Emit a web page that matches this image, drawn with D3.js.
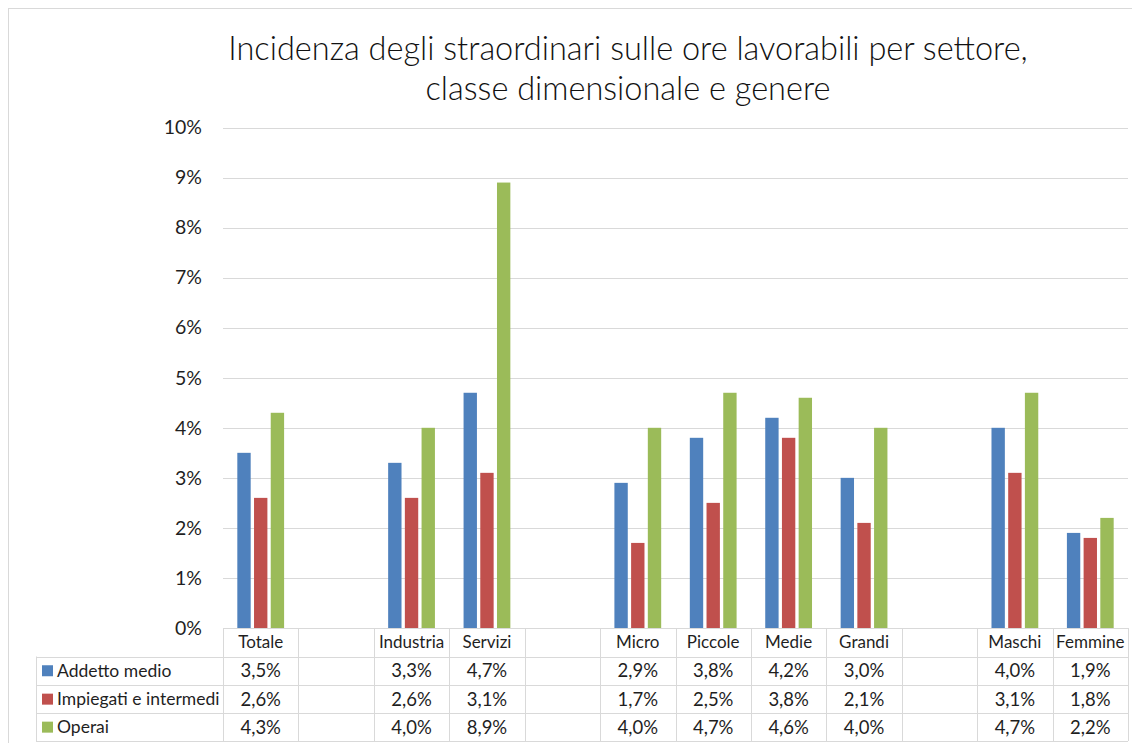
<!DOCTYPE html>
<html>
<head>
<meta charset="utf-8">
<script src="https://cdn.jsdelivr.net/npm/d3@7"></script>
<style>
  html, body { margin: 0; padding: 0; background: #fff; }
  svg { display: block; font-family: Lato, "Open Sans", sans-serif; }
</style>
</head>
<body>
<svg id="chart" width="1132" height="743"></svg>
<script>
// Categories (empty strings are spacer columns between groups)
const categories = ["Totale", "", "Industria", "Servizi", "", "Micro", "Piccole", "Medie", "Grandi", "", "Maschi", "Femmine"];
const seriesNames = ["Addetto medio", "Impiegati e intermedi", "Operai"];
const seriesColors = ["#4F81BD", "#C0504D", "#9BBB59"];
const addettoMedio = [3.5, null, 3.3, 4.7, null, 2.9, 3.8, 4.2, 3.0, null, 4.0, 1.9];
const impiegati    = [2.6, null, 2.6, 3.1, null, 1.7, 2.5, 3.8, 2.1, null, 3.1, 1.8];
const operai       = [4.3, null, 4.0, 8.9, null, 4.0, 4.7, 4.6, 4.0, null, 4.7, 2.2];
const yTicks = [0, 1, 2, 3, 4, 5, 6, 7, 8, 9, 10];
const titleLines = ["Incidenza degli straordinari sulle ore lavorabili per settore,", "classe dimensionale e genere"];

const seriesValues = [addettoMedio, impiegati, operai];
const fmtPct = v => v.toFixed(1).replace(".", ",") + "%";

const svg = d3.select("#chart");
const gridColor = "#D9D9D9";
const textColor = "#1f1f1f";

// Outer chart frame
svg.append("rect")
  .attr("x", 8.5).attr("y", 8.5)
  .attr("width", 1140).attr("height", 760)
  .attr("fill", "#fff").attr("stroke", gridColor);

// Title
svg.append("g").selectAll("text")
  .data(titleLines).join("text")
  .attr("x", 628)
  .attr("y", (d, i) => 60 + i * 40)
  .attr("text-anchor", "middle")
  .attr("font-size", 32.5)
  .attr("font-weight", 300)
  .attr("fill", "#111")
  .text(d => d);

// Scales
const x = d3.scaleBand()
  .domain(d3.range(categories.length))
  .range([223, 1128])
  .paddingInner(0).paddingOuter(0);

const x1 = d3.scaleBand()
  .domain(d3.range(seriesNames.length))
  .range([0, x.bandwidth()])
  .paddingInner(0.2)
  .paddingOuter(0.857);

const y = d3.scaleLinear().domain([0, 10]).range([628, 127.5]);

// Gridlines
svg.append("g").selectAll("line")
  .data(yTicks).join("line")
  .attr("x1", 223).attr("x2", 1128)
  .attr("y1", d => Math.round(y(d)) + 0.5)
  .attr("y2", d => Math.round(y(d)) + 0.5)
  .attr("stroke", gridColor)
  .attr("stroke-width", 1.2);

// Y axis labels
const yAxis = d3.axisLeft(y).tickValues(yTicks).tickFormat(d => d + "%").tickSize(0).tickPadding(0);
const yAxisG = svg.append("g").attr("transform", "translate(202,0)").call(yAxis);
yAxisG.select(".domain").remove();
yAxisG.selectAll("text")
  .attr("font-family", "Lato, sans-serif")
  .attr("font-size", 19.5)
  .attr("fill", textColor);

// Bars
const barGroups = svg.append("g").selectAll("g")
  .data(categories.map((c, i) => i)).join("g")
  .attr("transform", i => `translate(${x(i)},0)`);

barGroups.selectAll("rect")
  .data(i => seriesValues.map((vals, s) => ({ s, v: vals[i] })).filter(d => d.v != null))
  .join("rect")
  .attr("x", d => x1(d.s))
  .attr("width", x1.bandwidth())
  .attr("y", d => y(d.v))
  .attr("height", d => y(0) - y(d.v))
  .attr("fill", d => seriesColors[d.s]);

// Data table
const rowTops = [628, 656.5, 685, 713.3, 741];
const legendLeft = 36;
const table = svg.append("g");

// Horizontal rules
table.append("line")
  .attr("x1", 223).attr("x2", 1128)
  .attr("y1", rowTops[0] + 0.5).attr("y2", rowTops[0] + 0.5)
  .attr("stroke", gridColor);
rowTops.slice(1).forEach(t => {
  table.append("line")
    .attr("x1", legendLeft).attr("x2", 1128)
    .attr("y1", Math.round(t) + 0.5).attr("y2", Math.round(t) + 0.5)
    .attr("stroke", gridColor);
});

// Vertical rules between category columns
const colEdges = categories.map((c, i) => x(i)).concat([x(categories.length - 1) + x.bandwidth()]);
table.selectAll("line.v")
  .data(colEdges).join("line")
  .attr("class", "v")
  .attr("x1", d => Math.round(d) + 0.5).attr("x2", d => Math.round(d) + 0.5)
  .attr("y1", rowTops[0]).attr("y2", rowTops[4])
  .attr("stroke", gridColor);
table.append("line")
  .attr("x1", legendLeft + 0.5).attr("x2", legendLeft + 0.5)
  .attr("y1", rowTops[1]).attr("y2", rowTops[4])
  .attr("stroke", gridColor);

// Category header labels
table.selectAll("text.cat")
  .data(categories).join("text")
  .attr("class", "cat")
  .attr("x", (d, i) => x(i) + x.bandwidth() / 2)
  .attr("y", (rowTops[0] + rowTops[1]) / 2)
  .attr("dy", "0.35em")
  .attr("text-anchor", "middle")
  .attr("font-size", 17)
  .attr("fill", textColor)
  .text(d => d);

// Legend keys, series names and values
seriesNames.forEach((name, s) => {
  const cy = (rowTops[s + 1] + rowTops[s + 2]) / 2;
  table.append("rect")
    .attr("x", 42).attr("y", cy - 5.5)
    .attr("width", 11).attr("height", 11)
    .attr("fill", seriesColors[s]);
  table.append("text")
    .attr("x", 57).attr("y", cy)
    .attr("dy", "0.35em")
    .attr("font-size", 17.5)
    .attr("fill", textColor)
    .text(name);
  table.append("g").selectAll("text")
    .data(seriesValues[s].map((v, i) => ({ v, i })).filter(d => d.v != null))
    .join("text")
    .attr("x", d => x(d.i) + x.bandwidth() / 2)
    .attr("y", cy)
    .attr("dy", "0.35em")
    .attr("text-anchor", "middle")
    .attr("font-size", 18.5)
    .attr("fill", textColor)
    .text(d => fmtPct(d.v));
});
</script>
</body>
</html>
